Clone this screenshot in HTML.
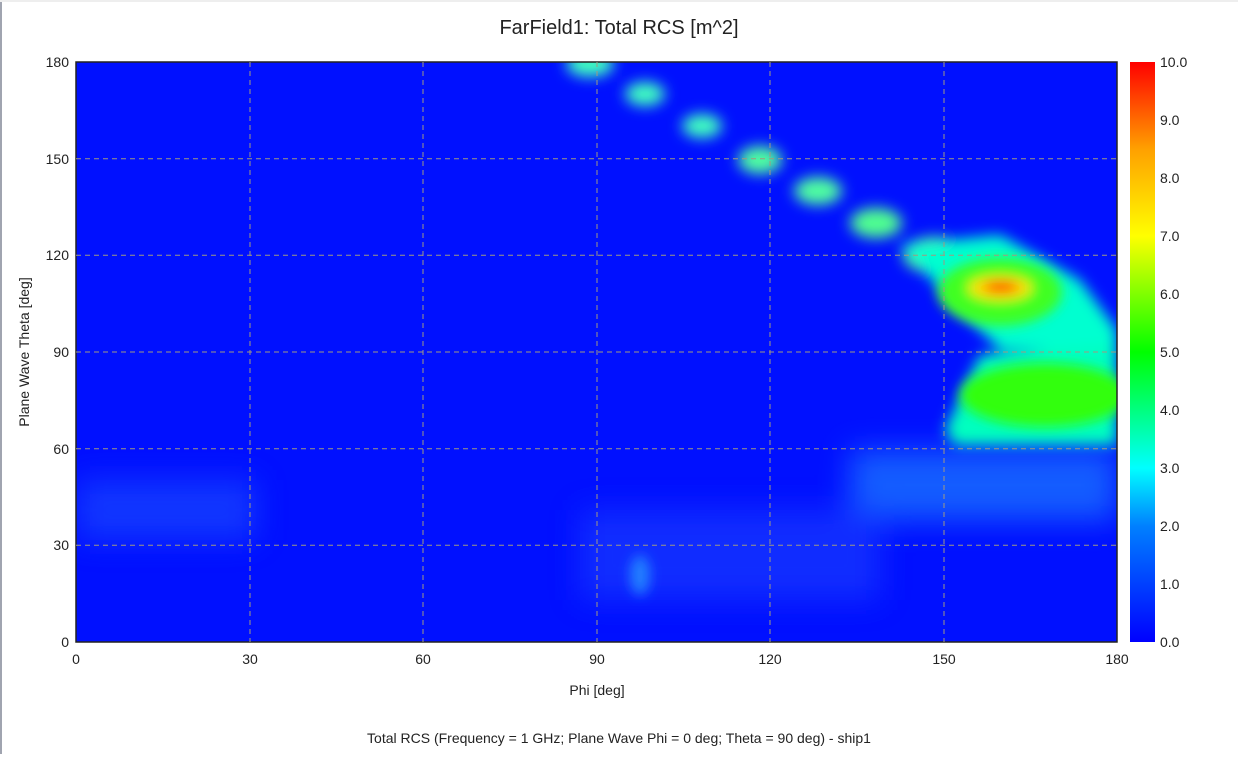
<!DOCTYPE html>
<html><head><meta charset="utf-8"><style>
body{margin:0;width:1238px;height:754px;background:#fff;overflow:hidden;font-family:"Liberation Sans",sans-serif;}
</style></head><body>
<svg width="1238" height="754" xmlns="http://www.w3.org/2000/svg" font-family="Liberation Sans, sans-serif">
<defs>
<filter id="b1" x="-50%" y="-50%" width="200%" height="200%"><feGaussianBlur stdDeviation="7"/></filter>
<filter id="b2" x="-50%" y="-50%" width="200%" height="200%"><feGaussianBlur stdDeviation="6"/></filter>
<filter id="b3" x="-50%" y="-50%" width="200%" height="200%"><feGaussianBlur stdDeviation="15"/></filter>
<clipPath id="c"><rect x="76" y="62" width="1041" height="580"/></clipPath>
<linearGradient id="cb" x1="0" y1="1" x2="0" y2="0">
<stop offset="0" stop-color="#0000ff"/><stop offset="0.2" stop-color="#0080ff"/>
<stop offset="0.3" stop-color="#00ffff"/><stop offset="0.5" stop-color="#00ff00"/>
<stop offset="0.7" stop-color="#ffff00"/><stop offset="0.85" stop-color="#ffa000"/>
<stop offset="1" stop-color="#ff0000"/></linearGradient>
</defs>
<rect x="0" y="0" width="2" height="754" fill="#a0a4b0"/>
<rect x="0" y="0" width="1238" height="2" fill="#eee"/>
<text x="619" y="34" font-size="20" text-anchor="middle" fill="#222">FarField1: Total RCS [m^2]</text>
<g clip-path="url(#c)">
<rect x="76" y="62" width="1041" height="580" fill="#0010ff"/>
<g filter="url(#b3)" opacity="0.6">
<rect x="850" y="450" width="267" height="70" fill="#2090ff"/>
<rect x="76" y="480" width="180" height="60" fill="#1a50ff"/>
<rect x="580" y="510" width="300" height="90" fill="#1a40ff"/>
</g>
<g filter="url(#b1)">
<ellipse cx="590" cy="64" rx="24" ry="13" fill="#40ffc0"/>
<ellipse cx="645" cy="94" rx="20" ry="12" fill="#40ffc0"/>
<ellipse cx="702" cy="126" rx="20" ry="12" fill="#40ffc0"/>
<ellipse cx="760" cy="160" rx="22" ry="14" fill="#50ffa0"/>
<ellipse cx="818" cy="191" rx="24" ry="14" fill="#50ffa0"/>
<ellipse cx="876" cy="223" rx="26" ry="15" fill="#50ff90"/>
<ellipse cx="935" cy="255" rx="32" ry="18" fill="#50ff80"/>
<polygon points="900,245 1000,235 1080,280 1117,330 1117,350 1000,350 950,300" fill="#00ffd0"/>
<polygon points="945,430 980,355 1117,345 1117,445 955,445" fill="#00ffc0"/>
</g>
<g filter="url(#b2)">
<ellipse cx="1000" cy="292" rx="62" ry="34" fill="#40ff20"/>
<ellipse cx="1045" cy="395" rx="85" ry="32" fill="#30ff10"/>
<ellipse cx="1000" cy="288" rx="32" ry="12" fill="#ffe000"/>
<ellipse cx="1001" cy="287" rx="18" ry="6" fill="#ff4000"/>
<ellipse cx="640" cy="575" rx="10" ry="20" fill="#2080ff"/>
</g>
</g>
<rect x="76" y="62" width="1041" height="580" fill="none" stroke="#222" stroke-width="1.5"/>
<g stroke="#a09a80" stroke-width="1" stroke-dasharray="5,4">
<line x1="250" y1="62" x2="250" y2="642"/><line x1="423" y1="62" x2="423" y2="642"/>
<line x1="597" y1="62" x2="597" y2="642"/><line x1="770" y1="62" x2="770" y2="642"/>
<line x1="944" y1="62" x2="944" y2="642"/>
<line x1="76" y1="158.7" x2="1117" y2="158.7"/><line x1="76" y1="255.3" x2="1117" y2="255.3"/>
<line x1="76" y1="352" x2="1117" y2="352"/><line x1="76" y1="448.7" x2="1117" y2="448.7"/>
<line x1="76" y1="545.3" x2="1117" y2="545.3"/>
</g>
<g font-size="14" fill="#222" text-anchor="end">
<text x="69" y="67">180</text><text x="69" y="164">150</text><text x="69" y="260">120</text>
<text x="69" y="357">90</text><text x="69" y="454">60</text><text x="69" y="550">30</text><text x="69" y="647">0</text>
</g>
<g font-size="14" fill="#222" text-anchor="middle">
<text x="76" y="664">0</text><text x="250" y="664">30</text><text x="423" y="664">60</text>
<text x="597" y="664">90</text><text x="770" y="664">120</text><text x="944" y="664">150</text><text x="1117" y="664">180</text>
</g>
<text x="597" y="695" font-size="14" text-anchor="middle" fill="#222">Phi [deg]</text>
<text transform="translate(29,352) rotate(-90)" font-size="14" text-anchor="middle" fill="#222">Plane Wave Theta [deg]</text>
<rect x="1130" y="62" width="25" height="580" fill="url(#cb)"/>
<g font-size="14" fill="#222">
<text x="1160" y="67">10.0</text><text x="1160" y="125">9.0</text><text x="1160" y="183">8.0</text>
<text x="1160" y="241">7.0</text><text x="1160" y="299">6.0</text><text x="1160" y="357">5.0</text>
<text x="1160" y="415">4.0</text><text x="1160" y="473">3.0</text><text x="1160" y="531">2.0</text>
<text x="1160" y="589">1.0</text><text x="1160" y="647">0.0</text>
</g>
<text x="619" y="743" font-size="14" text-anchor="middle" fill="#222">Total RCS (Frequency = 1 GHz; Plane Wave Phi = 0 deg; Theta = 90 deg) - ship1</text>
</svg>
</body></html>
